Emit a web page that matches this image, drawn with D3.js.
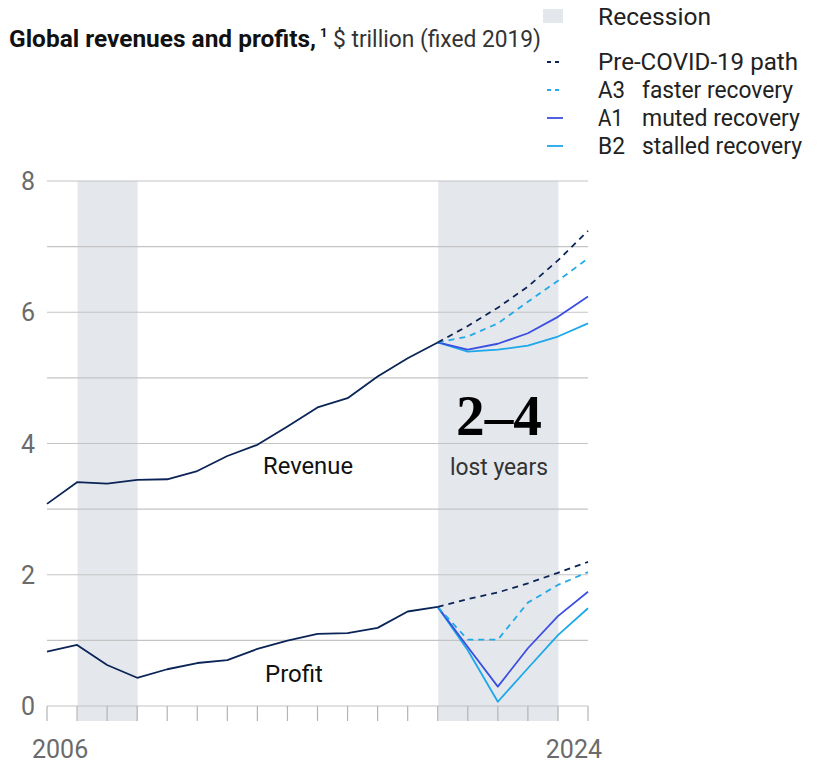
<!DOCTYPE html>
<html><head><meta charset="utf-8">
<script src="https://cdn.jsdelivr.net/npm/d3@7"></script>
<style>
body{margin:0;background:#fff;}
text{font-family:Roboto,"Liberation Sans",sans-serif;}
</style></head>
<body>
<svg id="chart" width="819" height="763"></svg>
<script>
const histYears = d3.range(2006, 2020);
const revenueHist = [3.08, 3.41, 3.39, 3.445, 3.455, 3.58, 3.81, 3.98, 4.26, 4.55, 4.69, 5.02, 5.30, 5.54];
const profitHist  = [0.83, 0.93, 0.625, 0.43, 0.56, 0.655, 0.70, 0.87, 0.995, 1.10, 1.11, 1.19, 1.44, 1.51];

const scenYears = [2019, 2020, 2021, 2022, 2023, 2024];
const revPreCovid = [5.54, 5.79, 6.07, 6.39, 6.79, 7.24];
const revA3 = [5.54, 5.63, 5.83, 6.16, 6.48, 6.82];
const revA1 = [5.54, 5.43, 5.52, 5.68, 5.93, 6.24];
const revB2 = [5.54, 5.40, 5.43, 5.49, 5.63, 5.83];

const profPreCovid = [1.51, 1.63, 1.73, 1.87, 2.03, 2.195];
const profA3 = [1.51, 1.01, 1.01, 1.575, 1.845, 2.04];
const profA1 = [1.51, 0.90, 0.295, 0.88, 1.37, 1.74];
const profB2 = [1.51, 0.85, 0.065, 0.575, 1.08, 1.49];

const recessions = [[2007, 2009], [2019, 2023]];
const yTicks = [0, 2, 4, 6, 8];
const yGrid = d3.range(0, 9);
const xLabels = [2006, 2024];

const legendItems = [
  {code: "Pre-COVID-19 path", label: "", color: "#0b2457", dash: "6,5"},
  {code: "A3", label: "faster recovery", color: "#22a9e8", dash: "6,5"},
  {code: "A1", label: "muted recovery", color: "#3b4fe0", dash: null},
  {code: "B2", label: "stalled recovery", color: "#1ca8ea", dash: null}
];

const svg = d3.select("#chart");
const x = d3.scaleLinear().domain([2006, 2024]).range([47, 588]);
const y = d3.scaleLinear().domain([0, 8]).range([706, 181]);

// recession bands
svg.selectAll("rect.rec").data(recessions).join("rect")
  .attr("x", d => x(d[0]) + 0.5).attr("width", d => x(d[1]) - x(d[0]))
  .attr("y", y(8)).attr("height", y(0) - y(8) + 15)
  .attr("fill", "#e4e7ec");

// grid
svg.selectAll("line.grid").data(yGrid).join("line")
  .attr("x1", x(2006)).attr("x2", x(2024))
  .attr("y1", d => y(d)).attr("y2", d => y(d))
  .attr("stroke", "#c4c4c4").attr("stroke-width", 1.2);

// x ticks
svg.selectAll("line.tick").data(d3.range(2006, 2025)).join("line")
  .attr("x1", d => x(d)).attr("x2", d => x(d))
  .attr("y1", y(0)).attr("y2", y(0) + 15)
  .attr("stroke", "#b4b4b4").attr("stroke-width", 1.2);

// y labels
svg.selectAll("text.ylab").data(yTicks).join("text")
  .attr("x", 35).attr("y", d => y(d) + 9)
  .attr("text-anchor", "end").attr("font-size", 25).attr("fill", "#6b6b6b")
  .text(d => d);

// x labels
svg.append("text").attr("x", 32).attr("y", 758).attr("font-size", 25).attr("fill", "#6b6b6b").text(xLabels[0]);
svg.append("text").attr("x", 602).attr("y", 758).attr("text-anchor", "end").attr("font-size", 25).attr("fill", "#6b6b6b").text(xLabels[1]);

const line = d3.line().x(d => x(d[0])).y(d => y(d[1]));
function drawLine(years, vals, color, dash, w) {
  const p = svg.append("path").datum(years.map((yr, i) => [yr, vals[i]]))
    .attr("d", line).attr("fill", "none").attr("stroke", color)
    .attr("stroke-width", w || 1.8).attr("stroke-linejoin", "round");
  if (dash) p.attr("stroke-dasharray", dash);
}

drawLine(scenYears, revB2, legendItems[3].color, null);
drawLine(scenYears, revA1, legendItems[2].color, null);
drawLine(scenYears, revA3, legendItems[1].color, "6,5");
drawLine(scenYears, revPreCovid, legendItems[0].color, "6,5");
drawLine(scenYears, profB2, legendItems[3].color, null);
drawLine(scenYears, profA1, legendItems[2].color, null);
drawLine(scenYears, profA3, legendItems[1].color, "6,5");
drawLine(scenYears, profPreCovid, legendItems[0].color, "6,5");
drawLine(histYears, revenueHist, "#0b2457", null);
drawLine(histYears, profitHist, "#0b2457", null);

// annotations
svg.append("text").attr("x", 263).attr("y", 474).attr("font-size", 24).attr("fill", "#111")
  .attr("textLength", 90).attr("lengthAdjust", "spacingAndGlyphs").text("Revenue");
svg.append("text").attr("x", 265).attr("y", 682).attr("font-size", 24).attr("fill", "#111")
  .attr("textLength", 58).attr("lengthAdjust", "spacingAndGlyphs").text("Profit");
svg.append("text").attr("x", 456).attr("y", 435).attr("font-size", 56).attr("font-weight", "bold")
  .style("font-family", "'Liberation Serif','DejaVu Serif',serif").attr("fill", "#000")
  .attr("textLength", 86).attr("lengthAdjust", "spacingAndGlyphs").text("2–4");
svg.append("text").attr("x", 450).attr("y", 475).attr("font-size", 24).attr("fill", "#333")
  .attr("textLength", 98).attr("lengthAdjust", "spacingAndGlyphs").text("lost years");

// title
svg.append("text").attr("x", 9).attr("y", 47).attr("font-size", 24).attr("font-weight", "bold").attr("fill", "#111")
  .attr("textLength", 307).attr("lengthAdjust", "spacingAndGlyphs").text("Global revenues and profits,");
svg.append("text").attr("x", 320).attr("y", 37).attr("font-size", 13).attr("font-weight", "bold").attr("fill", "#111").text("1");
svg.append("text").attr("x", 333).attr("y", 47).attr("font-size", 24).attr("fill", "#333")
  .attr("textLength", 208).attr("lengthAdjust", "spacingAndGlyphs").text("$ trillion (fixed 2019)");

// legend
svg.append("rect").attr("x", 543).attr("y", 9).attr("width", 20).attr("height", 14).attr("fill", "#e4e7ec");
svg.append("text").attr("x", 598).attr("y", 25).attr("font-size", 23).attr("fill", "#222")
  .attr("textLength", 113).attr("lengthAdjust", "spacingAndGlyphs").text("Recession");
const codeW = {"Pre-COVID-19 path": 200, "A3": 27, "A1": 25, "B2": 27};
const labelW = {"faster recovery": 151, "muted recovery": 158, "stalled recovery": 160};
legendItems.forEach((d, i) => {
  const cy = 62 + i * 28;
  const l = svg.append("line").attr("x1", 547).attr("x2", 563).attr("y1", cy).attr("y2", cy)
    .attr("stroke", d.color).attr("stroke-width", 1.8);
  if (d.dash) l.attr("stroke-dasharray", "4,4");
  svg.append("text").attr("x", 598).attr("y", cy + 8).attr("font-size", 23).attr("fill", "#222")
    .attr("textLength", codeW[d.code]).attr("lengthAdjust", "spacingAndGlyphs").text(d.code);
  if (d.label) svg.append("text").attr("x", 642).attr("y", cy + 8).attr("font-size", 23).attr("fill", "#222")
    .attr("textLength", labelW[d.label]).attr("lengthAdjust", "spacingAndGlyphs").text(d.label);
});
</script>
</body></html>
